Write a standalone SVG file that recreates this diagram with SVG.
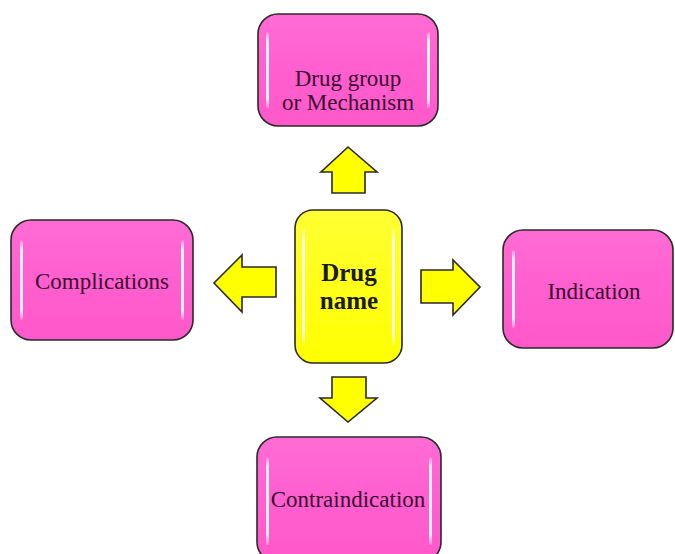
<svg xmlns="http://www.w3.org/2000/svg" width="675" height="554" viewBox="0 0 675 554">
<defs>
<linearGradient id="pinkG" x1="0" y1="0" x2="0" y2="1">
<stop offset="0" stop-color="#ff6cd4"/>
<stop offset="0.5" stop-color="#ff5fcf"/>
<stop offset="1" stop-color="#ff58ca"/>
</linearGradient>
<linearGradient id="yelG" x1="0" y1="0" x2="0" y2="1">
<stop offset="0" stop-color="#ffff33"/>
<stop offset="1" stop-color="#ffff00"/>
</linearGradient>
<linearGradient id="hl" x1="0" y1="0" x2="0" y2="1">
<stop offset="0" stop-color="#ffffff" stop-opacity="0.2"/>
<stop offset="0.12" stop-color="#ffffff" stop-opacity="0.9"/>
<stop offset="0.88" stop-color="#ffffff" stop-opacity="0.9"/>
<stop offset="1" stop-color="#ffffff" stop-opacity="0.2"/>
</linearGradient>
</defs>
<style>
.pink{fill:url(#pinkG);stroke:#2a2a2a;stroke-width:1.6}
.yel{fill:url(#yelG);stroke:#2a2a2a;stroke-width:1.6}
.hl{fill:url(#hl)}
.lbl{font-family:"Liberation Serif","DejaVu Serif",serif;font-size:23px;fill:#3a0a30;text-anchor:middle}
.cen{font-family:"Liberation Serif","DejaVu Serif",serif;font-size:25px;font-weight:bold;fill:#1a1a1a;text-anchor:middle}
.arr{fill:#ffff00;stroke:#2a2a2a;stroke-width:1.6;stroke-linejoin:miter}
</style>
<rect width="675" height="554" fill="#ffffff"/>
<g id="connectors">
<path class="arr" d="M348,147 L377,172 L365,172 L365,193 L332,193 L332,172 L321,172 Z"/>
<path class="arr" d="M332,377 L366,377 L366,398 L377,398 L348,422 L320,398 L332,398 Z"/>
<path class="arr" d="M214,283 L242,255 L242,267 L276,267 L276,297 L242,297 L242,312 Z"/>
<path class="arr" d="M421,270 L453,270 L453,260 L480,287 L453,315 L453,303 L421,303 Z"/>
</g>
<g id="node-mechanism">
<rect class="pink" x="258" y="14" width="180" height="112" rx="20"/>
<rect class="hl" x="266" y="32" width="3" height="76" rx="1.5"/>
<rect class="hl" x="427" y="32" width="3" height="76" rx="1.5"/>
<text class="lbl" x="348" y="86">Drug group</text>
<text class="lbl" x="348" y="110">or Mechanism</text>
</g>
<g id="node-drug">
<rect class="yel" x="295" y="210" width="107" height="153" rx="18"/>
<rect class="hl" x="302" y="228" width="3" height="117" rx="1.5"/>
<rect class="hl" x="392" y="228" width="3" height="117" rx="1.5"/>
<text class="cen" x="349" y="281">Drug</text>
<text class="cen" x="349" y="309">name</text>
</g>
<g id="node-complications">
<rect class="pink" x="11" y="220" width="182" height="120" rx="20"/>
<rect class="hl" x="20" y="240" width="3" height="80" rx="1.5"/>
<rect class="hl" x="181" y="240" width="3" height="80" rx="1.5"/>
<text class="lbl" x="102" y="289">Complications</text>
</g>
<g id="node-indication">
<rect class="pink" x="503" y="230" width="170" height="118" rx="20"/>
<rect class="hl" x="512" y="250" width="3" height="78" rx="1.5"/>
<text class="lbl" x="594" y="299">Indication</text>
</g>
<g id="node-contraindication">
<rect class="pink" x="257" y="437" width="184" height="125" rx="20"/>
<rect class="hl" x="266" y="457" width="3" height="88" rx="1.5"/>
<rect class="hl" x="429" y="457" width="3" height="88" rx="1.5"/>
<text class="lbl" x="348" y="507">Contraindication</text>
</g>
</svg>
